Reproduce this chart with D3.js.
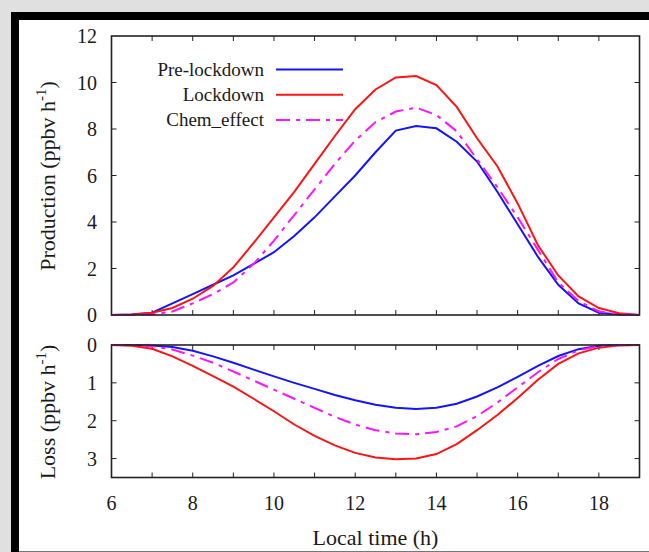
<!DOCTYPE html>
<html>
<head>
<meta charset="utf-8">
<script src="https://cdn.jsdelivr.net/npm/d3@7"></script>
<style>
  body { margin: 0; background: #e0e0e0; }
  svg { display: block; }
  text { fill: #1a1a1a; }
</style>
</head>
<body>
<div id="my_dataviz"></div>
<script>
// hours, every half hour from 6 to 19
var hours = [6,6.5,7,7.5,8,8.5,9,9.5,10,10.5,11,11.5,12,12.5,13,13.5,14,14.5,15,15.5,16,16.5,17,17.5,18,18.5,19];

// production (ppbv h-1)
var prodPre  = [0,0.02,0.1,0.5,0.9,1.3,1.7,2.2,2.7,3.4,4.2,5.1,6.0,7.0,7.93,8.13,8.03,7.45,6.6,5.3,3.9,2.5,1.3,0.5,0.1,0.02,0];
var prodLock = [0,0.02,0.1,0.3,0.7,1.25,2.05,3.1,4.2,5.3,6.5,7.7,8.85,9.7,10.22,10.28,9.89,8.95,7.6,6.4,4.8,3.0,1.7,0.8,0.3,0.08,0];
var prodChem = [0,0,0.02,0.15,0.5,0.9,1.4,2.2,3.2,4.3,5.4,6.5,7.5,8.3,8.75,8.92,8.6,7.9,6.7,5.5,4.2,2.8,1.4,0.6,0.15,0.03,0];

// loss (ppbv h-1)
var lossPre  = [0,0,0.01,0.05,0.15,0.3,0.47,0.65,0.83,1.0,1.16,1.32,1.46,1.58,1.66,1.69,1.66,1.55,1.36,1.12,0.84,0.55,0.29,0.11,0.02,0,0];
var lossLock = [0,0.02,0.1,0.3,0.55,0.82,1.1,1.42,1.75,2.1,2.4,2.65,2.85,2.97,3.02,3.0,2.88,2.62,2.25,1.85,1.4,0.92,0.5,0.22,0.07,0.01,0];
var lossChem = [0,0,0.03,0.12,0.28,0.47,0.7,0.94,1.18,1.42,1.66,1.9,2.1,2.25,2.34,2.36,2.3,2.15,1.88,1.52,1.12,0.72,0.37,0.14,0.03,0,0];

var seriesNames = ["Pre-lockdown", "Lockdown", "Chem_effect"];
var seriesColors = ["#1414ff", "#ff1414", "#ff14ff"];
var seriesDash = [null, null, "14,6,4,6"];

var xTicks = [6,8,10,12,14,16,18];
var prodTicks = [0,2,4,6,8,10,12];
var lossTicks = [0,1,2,3];

var W = 649, H = 552;
var svg = d3.select("#my_dataviz").append("svg")
    .attr("width", W).attr("height", H)
    .attr("font-family", "'Liberation Serif', 'Times New Roman', Times, serif");

// page frame
svg.append("rect").attr("x", 11).attr("y", 12).attr("width", W - 11).attr("height", H - 12).attr("fill", "#000");
svg.append("rect").attr("x", 19).attr("y", 20).attr("width", W - 19).attr("height", 531).attr("fill", "#fff");
svg.append("rect").attr("x", 19).attr("y", 551).attr("width", W - 19).attr("height", 1).attr("fill", "#777");

var left = 111.5, right = 639.5;
var x = d3.scaleLinear().domain([6, 19]).range([left, right]);
var yProd = d3.scaleLinear().domain([0, 12]).range([315, 36]);
var yLoss = d3.scaleLinear().domain([0, 3.5]).range([345, 477.5]);

function panel(y, top, bottom, yt, series) {
    var g = svg.append("g");
    var hourTicks = d3.range(7, 19);
    // hour ticks on top and bottom edges
    g.selectAll(".tb").data(hourTicks).enter().append("line")
        .attr("x1", function(d) { return x(d); }).attr("x2", function(d) { return x(d); })
        .attr("y1", top).attr("y2", top + 5)
        .attr("stroke", "#222").attr("stroke-width", 1);
    g.selectAll(".bb").data(hourTicks).enter().append("line")
        .attr("x1", function(d) { return x(d); }).attr("x2", function(d) { return x(d); })
        .attr("y1", bottom).attr("y2", bottom - 5)
        .attr("stroke", "#222").attr("stroke-width", 1);
    // y ticks on left and right edges
    var inner = yt.filter(function(d) { return y(d) > top + 1 && y(d) < bottom - 1; });
    g.selectAll(".ly").data(inner).enter().append("line")
        .attr("x1", left).attr("x2", left + 5)
        .attr("y1", function(d) { return y(d); }).attr("y2", function(d) { return y(d); })
        .attr("stroke", "#222");
    g.selectAll(".ry").data(inner).enter().append("line")
        .attr("x1", right).attr("x2", right - 5)
        .attr("y1", function(d) { return y(d); }).attr("y2", function(d) { return y(d); })
        .attr("stroke", "#222");
    g.selectAll(".yl").data(yt).enter().append("text")
        .attr("x", 97).attr("y", function(d) { return y(d) + 7; })
        .attr("text-anchor", "end").style("font-size", "20px")
        .text(function(d) { return d; });

    // curves
    var line = d3.line()
        .x(function(d) { return x(d[0]); })
        .y(function(d) { return y(d[1]); });
    series.forEach(function(vals, i) {
        g.append("path")
            .datum(hours.map(function(h, k) { return [h, vals[k]]; }))
            .attr("d", line)
            .attr("fill", "none")
            .attr("stroke", seriesColors[i])
            .attr("stroke-width", 2)
            .attr("stroke-dasharray", seriesDash[i]);
    });

    // frame
    g.append("rect").attr("x", left).attr("y", top)
        .attr("width", right - left).attr("height", bottom - top)
        .attr("fill", "none").attr("stroke", "#222").attr("stroke-width", 1.6);
}

panel(yProd, 36, 315, prodTicks, [prodPre, prodLock, prodChem]);
panel(yLoss, 345, 477.5, lossTicks, [lossPre, lossLock, lossChem]);

// x tick labels
svg.selectAll(".xl").data(xTicks).enter().append("text")
    .attr("x", function(d) { return x(d); }).attr("y", 510)
    .attr("text-anchor", "middle").style("font-size", "20px")
    .text(function(d) { return d; });

svg.append("text").attr("x", (left + right) / 2).attr("y", 545)
    .attr("text-anchor", "middle").style("font-size", "22px")
    .text("Local time (h)");

function yTitle(label, cy) {
    var t = svg.append("text")
        .attr("transform", "translate(55," + cy + ") rotate(-90)")
        .attr("text-anchor", "middle").style("font-size", "22px");
    t.append("tspan").text(label + " (ppbv h");
    t.append("tspan").attr("dy", -9).style("font-size", "15px").text("-1");
    t.append("tspan").attr("dy", 9).text(")");
}
yTitle("Production", 176);
yTitle("Loss", 412);

// legend
var legend = svg.append("g").selectAll("g")
    .data(seriesNames).enter().append("g")
    .attr("transform", function(d, i) { return "translate(0," + (69.5 + i * 25.3) + ")"; });
legend.append("text")
    .attr("x", 264).attr("y", 6)
    .attr("text-anchor", "end").style("font-size", "19px")
    .text(function(d) { return d; });
legend.append("line")
    .attr("x1", 276).attr("x2", 343).attr("y1", 0).attr("y2", 0)
    .attr("stroke", function(d, i) { return seriesColors[i]; })
    .attr("stroke-width", 2)
    .attr("stroke-dasharray", function(d, i) { return seriesDash[i]; });
</script>
</body>
</html>
